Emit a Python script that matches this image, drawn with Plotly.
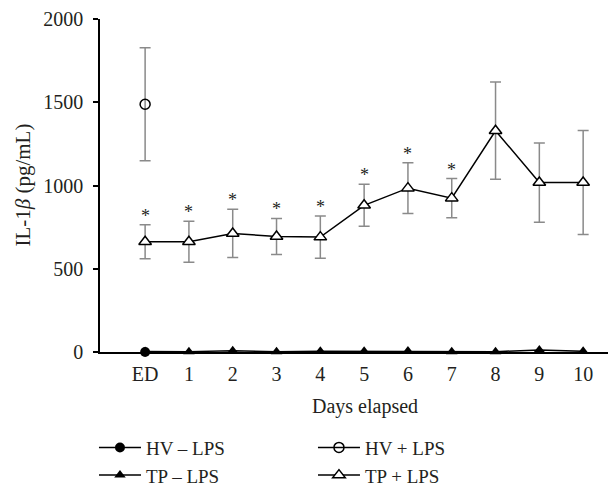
import plotly.graph_objects as go

days = ["ED", "1", "2", "3", "4", "5", "6", "7", "8", "9", "10"]
x_idx = list(range(len(days)))

hv_minus = [0]
hv_plus = [1488]
hv_plus_err_up = [340]
hv_plus_err_dn = [340]

tp_minus = [3, 2, 8, 2, 5, 5, 6, 2, 2, 12, 4]
tp_plus = [662, 662, 712, 694, 690, 881, 984, 924, 1329, 1018, 1018]
tp_plus_err = [102, 123, 145, 108, 127, 126, 152, 118, 292, 238, 312]
stars = [True, True, True, True, True, True, True, True, False, False, False]

FONT = "Liberation Serif"
TXT = "#231f20"
ERRC = "#8a8a8a"
FS = 20

fig = go.Figure()

fig.add_trace(go.Scatter(
    x=x_idx[:1], y=hv_minus, name="HV \u2013 LPS", mode="lines+markers",
    line=dict(color="black", width=1.5),
    marker=dict(symbol="circle", size=10, color="black"),
    legend="legend", cliponaxis=False))

fig.add_trace(go.Scatter(
    x=x_idx, y=tp_minus, name="TP \u2013 LPS", mode="lines+markers",
    line=dict(color="black", width=1.5),
    marker=dict(symbol="triangle-up", size=10, color="black"),
    legend="legend", cliponaxis=False))

fig.add_trace(go.Scatter(
    x=x_idx[:1], y=hv_plus, name="HV + LPS", mode="lines+markers",
    line=dict(color="black", width=1.5),
    marker=dict(symbol="circle-open", size=10, color="black", line=dict(width=1.5)),
    error_y=dict(type="data", array=hv_plus_err_up, arrayminus=hv_plus_err_dn,
                 color=ERRC, thickness=1.5, width=5.5),
    legend="legend2", cliponaxis=False))

fig.add_trace(go.Scatter(
    x=x_idx, y=tp_plus, name="TP + LPS", mode="lines+markers",
    line=dict(color="black", width=1.5),
    marker=dict(symbol="triangle-up", size=11, color="white", line=dict(color="black", width=1.5)),
    error_y=dict(type="data", array=tp_plus_err, color=ERRC, thickness=1.5, width=5.5),
    legend="legend2", cliponaxis=False))

for i, s in enumerate(stars):
    if s:
        fig.add_annotation(x=x_idx[i], y=tp_plus[i] + tp_plus_err[i], text="*",
                           showarrow=False, yanchor="bottom", yshift=-3,
                           font=dict(family=FONT, size=18, color=TXT))

fig.add_annotation(x=0.5136, y=-0.163, xref="paper", yref="paper", text="Days elapsed",
                   showarrow=False, xanchor="center", yanchor="middle",
                   font=dict(family=FONT, size=FS, color=TXT))
fig.add_annotation(x=-0.151, y=0.5, xref="paper", yref="paper",
                   text="IL-1<i>\u03b2</i> (pg/mL)", textangle=-90,
                   showarrow=False, xanchor="center", yanchor="middle",
                   font=dict(family=FONT, size=21, color=TXT))

leg_common = dict(xref="container", yref="container", xanchor="left", yanchor="top",
                  orientation="v", tracegroupgap=0, itemwidth=42,
                  font=dict(family=FONT, size=19, color=TXT), bgcolor="rgba(0,0,0,0)")

fig.update_layout(
    width=608, height=479,
    margin=dict(l=92, r=0, t=11, b=135, autoexpand=False),
    paper_bgcolor="white", plot_bgcolor="white",
    font=dict(family=FONT, size=FS, color=TXT),
    showlegend=True,
    legend=dict(x=0.1414, y=0.122, **leg_common),
    legend2=dict(x=0.5016, y=0.122, **leg_common),
    xaxis=dict(range=[-1.03, 10.75], tickvals=x_idx, ticktext=days, showgrid=False,
               zeroline=False, showline=True, linecolor="black", linewidth=1.5,
               ticks="", ticklabelstandoff=3, tickfont=dict(family=FONT, size=FS, color=TXT)),
    yaxis=dict(range=[0, 2000], tickvals=[0, 500, 1000, 1500, 2000], showgrid=False,
               zeroline=False, showline=True, linecolor="black", linewidth=1.5,
               ticks="outside", ticklen=5, tickcolor="black", tickwidth=1.5,
               ticklabeloverflow="allow",
               ticklabelstandoff=6, tickfont=dict(family=FONT, size=FS, color=TXT)),
)

fig.write_html("out.html")
